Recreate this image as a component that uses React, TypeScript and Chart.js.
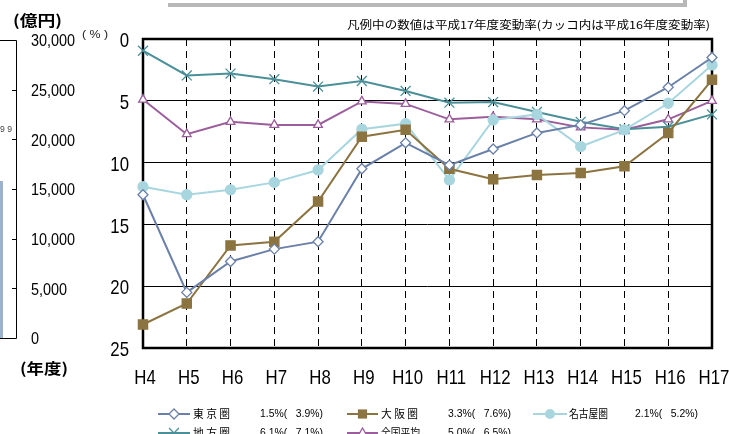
import React, { useEffect, useRef } from 'react';
import { Chart, registerables } from 'chart.js';

Chart.register(...registerables);

// ---- data ----
const categories = ['H4', 'H5', 'H6', 'H7', 'H8', 'H9', 'H10', 'H11', 'H12', 'H13', 'H14', 'H15', 'H16', 'H17'];
const tokyo = [12.6, 20.5, 18.0, 17.0, 16.4, 10.5, 8.4, 10.2, 8.9, 7.6, 6.95, 5.8, 3.9, 1.5];
const osaka = [23.1, 21.4, 16.7, 16.4, 13.15, 7.9, 7.35, 10.5, 11.35, 11.0, 10.85, 10.3, 7.6, 3.3];
const nagoya = [11.95, 12.6, 12.2, 11.6, 10.6, 7.3, 6.85, 11.4, 6.55, 6.1, 8.7, 7.35, 5.2, 2.1];
const chihou = [0.95, 2.95, 2.8, 3.25, 3.85, 3.4, 4.2, 5.15, 5.1, 5.9, 6.7, 7.3, 7.1, 6.1];
const zenkoku = [4.9, 7.7, 6.7, 6.95, 6.95, 5.05, 5.25, 6.5, 6.3, 6.5, 7.15, 7.35, 6.5, 5.0];
const seriesNames = ['東 京 圏', '大 阪 圏', '名古屋圏', '地 方 圏', '全国平均'];
const seriesRates = ['1.5%(   3.9%)', '3.3%(   7.6%)', '2.1%(   5.2%)', '6.1%(   7.1%)', '5.0%(   6.5%)'];
const yTickValues = [0, 5, 10, 15, 20, 25];
const leftAxisLabels = ['30,000', '25,000', '20,000', '15,000', '10,000', '5,000', '0'];
const titleText = '凡例中の数値は平成17年度変動率(カッコ内は平成16年度変動率)';

const COLORS = ['#6a80a8', '#8c7440', '#a8d6df', '#4b8f98', '#9c5d9c'];
const STYLES = ['rectRot', 'rect', 'circle', 'crossRot', 'triangle'];

const JP = '"Noto Sans CJK JP", sans-serif';
const AR = '"Liberation Sans", Arial, sans-serif';

function fitText(ctx: CanvasRenderingContext2D, text: string, x: number, y: number, w: number, font: string, color = '#000') {
  ctx.save();
  ctx.font = font;
  ctx.fillStyle = color;
  ctx.textBaseline = 'middle';
  ctx.textAlign = 'left';
  const m = ctx.measureText(text).width || 1;
  ctx.translate(x, y);
  ctx.scale(w / m, 1);
  ctx.fillText(text, 0, 0);
  ctx.restore();
}

function scaledText(ctx: CanvasRenderingContext2D, text: string, x: number, y: number, font: string, sx: number, align: CanvasTextAlign) {
  ctx.save();
  ctx.font = font;
  ctx.fillStyle = '#000';
  ctx.textBaseline = 'middle';
  ctx.textAlign = align;
  ctx.translate(x, y);
  ctx.scale(sx, 1);
  ctx.fillText(text, 0, 0);
  ctx.restore();
}

function drawMarker(ctx: CanvasRenderingContext2D, style: string, x: number, y: number, r: number, color: string) {
  ctx.save();
  ctx.strokeStyle = color;
  ctx.fillStyle = color;
  ctx.lineWidth = 1.3;
  ctx.beginPath();
  if (style === 'rectRot') {
    ctx.moveTo(x, y - r); ctx.lineTo(x + r, y); ctx.lineTo(x, y + r); ctx.lineTo(x - r, y); ctx.closePath();
    ctx.fillStyle = '#fff'; ctx.fill(); ctx.stroke();
  } else if (style === 'rect') {
    const s = r * Math.SQRT1_2;
    ctx.rect(x - s, y - s, 2 * s, 2 * s); ctx.fill();
  } else if (style === 'circle') {
    ctx.arc(x, y, r, 0, Math.PI * 2); ctx.fill();
  } else if (style === 'crossRot') {
    const d = r * Math.SQRT1_2;
    ctx.moveTo(x - d, y - d); ctx.lineTo(x + d, y + d); ctx.moveTo(x + d, y - d); ctx.lineTo(x - d, y + d); ctx.stroke();
  } else if (style === 'triangle') {
    for (let k = 0; k < 3; k++) {
      const a = k * (2 * Math.PI / 3);
      const px = x + Math.sin(a) * r, py = y - Math.cos(a) * r;
      if (k === 0) ctx.moveTo(px, py); else ctx.lineTo(px, py);
    }
    ctx.closePath(); ctx.fillStyle = '#fff'; ctx.fill(); ctx.stroke();
  }
  ctx.restore();
}

const decorPlugin = {
  id: 'decor',
  beforeDatasetsDraw(chart: any) {
    const { ctx, chartArea } = chart;
    ctx.save();
    ctx.strokeStyle = '#000';
    ctx.lineWidth = 2.5;
    ctx.strokeRect(chartArea.left, chartArea.top, chartArea.right - chartArea.left, chartArea.bottom - chartArea.top);
    ctx.restore();
  },
  afterDraw(chart: any) {
    const { ctx, chartArea } = chart;
    const xs = chart.scales.x;
    const ys = chart.scales.y;
    // tick labels
    xs.ticks.forEach((t: any, i: number) => {
      const px = xs.getPixelForTick(i);
      scaledText(ctx, String(xs.getLabelForValue(t.value)), px + 2, chartArea.bottom + 30.5, `21px ${AR}`, 0.8, 'center');
    });
    ys.ticks.forEach((t: any, i: number) => {
      const py = ys.getPixelForTick(i);
      scaledText(ctx, String(t.value), chartArea.left - 14, py + 2.5, `21px ${AR}`, 0.8, 'right');
    });
    // title
    fitText(ctx, titleText, 347, 25, 363, `11px ${JP}`);
    // grey box edge at top
    ctx.save();
    ctx.fillStyle = '#b8b8b8';
    ctx.fillRect(168, 3, 517, 4);
    ctx.fillRect(683, 0, 4, 7);
    ctx.restore();
    // left partial chart
    ctx.save();
    ctx.fillStyle = '#9db2cc';
    ctx.fillRect(0, 181, 3, 157);
    ctx.strokeStyle = '#000';
    ctx.lineWidth = 1;
    ctx.beginPath();
    ctx.moveTo(0, 40.5); ctx.lineTo(16.5, 40.5); ctx.lineTo(16.5, 338.5); ctx.lineTo(0, 338.5);
    for (let k = 1; k < 6; k++) {
      const ty = Math.round(40 + k * (298 / 6)) + 0.5;
      ctx.moveTo(12, ty); ctx.lineTo(16.5, ty);
    }
    ctx.stroke();
    ctx.restore();
    leftAxisLabels.forEach((lab, k) => {
      const ty = 40 + k * (298 / 6);
      scaledText(ctx, lab, 31, ty + 2, `16px ${AR}`, 0.9, 'left');
    });
    fitText(ctx, '9 9', 0, 130, 12, `9px ${AR}`, '#444');
    fitText(ctx, '(億円)', 13, 20, 49, `bold 15px ${JP}`);
    fitText(ctx, '(年度)', 20, 368, 48, `bold 15px ${JP}`);
    fitText(ctx, '( % )', 82, 35, 26, `11px ${AR}`, '#222');
    // legend
    const cols = [
      { lx0: 158, lx1: 190, nx: 193, rx: 260 },
      { lx0: 347, lx1: 378, nx: 381, rx: 448 },
      { lx0: 533, lx1: 567, nx: 569, rx: 635 },
    ];
    const pos = [[0, 0], [1, 0], [2, 0], [0, 1], [1, 1]];
    const radii = [5, 6.5, 5, 7, 5];
    seriesNames.forEach((name, i) => {
      const c = cols[pos[i][0]];
      const y = pos[i][1] === 0 ? 414 : 433;
      ctx.save();
      ctx.strokeStyle = COLORS[i];
      ctx.lineWidth = 2;
      ctx.beginPath(); ctx.moveTo(c.lx0, y); ctx.lineTo(c.lx1, y); ctx.stroke();
      ctx.restore();
      drawMarker(ctx, STYLES[i], (c.lx0 + c.lx1) / 2, y, radii[i], COLORS[i]);
      fitText(ctx, name, c.nx, y, name.includes(' ') ? 37 : 39, `11px ${JP}`);
      fitText(ctx, seriesRates[i], c.rx, y, 63, `11px ${AR}`);
    });
  },
};

export default function App() {
  const ref = useRef<HTMLCanvasElement>(null);
  useEffect(() => {
    if (!ref.current) return;
    const seriesData = [tokyo, osaka, nagoya, chihou, zenkoku];
    const radii = [5, 6.5, 5, 7, 5];
    const chart = new Chart(ref.current, {
      type: 'line',
      data: {
        labels: categories,
        datasets: seriesData.map((d, i) => ({
          label: seriesNames[i],
          data: d,
          borderColor: COLORS[i],
          borderWidth: 2,
          pointStyle: STYLES[i] as any,
          pointRadius: radii[i],
          pointBorderWidth: 1.3,
          pointBorderColor: COLORS[i],
          pointBackgroundColor: STYLES[i] === 'rectRot' || STYLES[i] === 'triangle' ? '#ffffff' : COLORS[i],
          tension: 0,
          clip: false as any,
        })),
      },
      options: {
        responsive: false,
        maintainAspectRatio: false,
        animation: false,
        layout: { padding: { left: 0, top: 39, right: 17, bottom: 0 } },
        plugins: { legend: { display: false }, tooltip: { enabled: false } },
        scales: {
          x: {
            type: 'category',
            offset: false,
            ticks: { display: false },
            grid: { color: '#000', lineWidth: 1, drawTicks: false },
            border: { display: false, dash: [7, 5] },
            afterFit: (s: any) => { s.height = 86; },
          },
          y: {
            reverse: true,
            min: 0,
            max: 25,
            afterBuildTicks: (s: any) => { s.ticks = yTickValues.map((v) => ({ value: v })); },
            ticks: { display: false },
            grid: { color: '#000', lineWidth: 1, drawTicks: false },
            border: { display: false },
            afterFit: (s: any) => { s.width = 143; },
          },
        },
      },
      plugins: [decorPlugin],
    });
    return () => chart.destroy();
  }, []);
  return (
    <div style={{ position: 'fixed', left: 0, top: 0, width: 729, height: 434, background: '#fff' }}>
      <canvas ref={ref} width={729} height={434} style={{ display: 'block' }} />
    </div>
  );
}
